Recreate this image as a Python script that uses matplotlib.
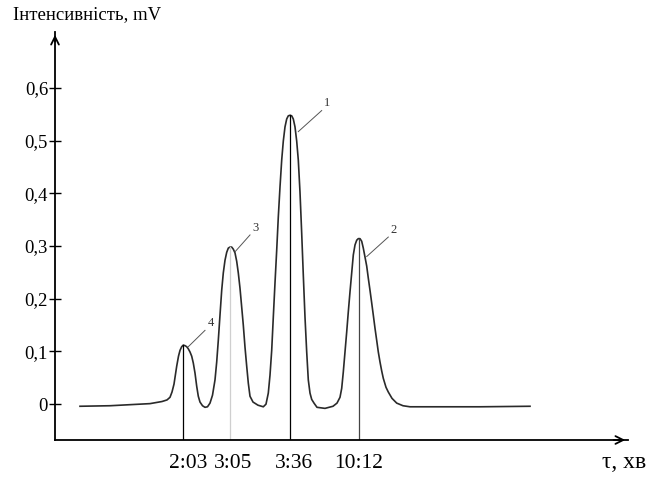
import matplotlib.pyplot as plt

plt.rcParams['font.family'] = ['Liberation Serif', 'DejaVu Serif']

# крива хроматограми (позиція по осі часу, інтенсивність mV)
pos = [80, 110, 150, 162, 167, 170, 172, 174, 176.7, 178.5, 180, 181.7, 183.3, 185, 186.7,
       188.3, 190, 191.7, 193.3, 195, 196.7, 198.3, 200, 202.5, 205, 207.5, 210, 212.5, 215,
       216.7, 218.3, 220, 221.7, 223.3, 225, 226.7, 228.3, 230, 231.7, 233.3, 235, 236.7,
       238.3, 240, 241.7, 243.3, 245, 246.7, 248.3, 250, 253, 258, 263.3, 266, 268.3, 270,
       271.7, 273.3, 275, 276.7, 278.3, 280, 281.7, 283.3, 285, 286.7, 288.3, 290, 291.7,
       293.3, 295, 296.7, 298.3, 300, 301.7, 303.3, 305, 306.7, 308.3, 310, 311.7, 314, 317,
       325, 333, 337, 340, 341.7, 343.3, 345, 346.7, 348.3, 350, 351.7, 353.3, 355, 356.7,
       358.3, 360, 361.7, 363.3, 365, 366.7, 368.3, 370, 371.7, 373.3, 375, 376.7, 378.3,
       380, 381.7, 383.3, 386, 388.3, 392, 396.7, 403, 410, 430, 480, 530]
intens = [-0.004, -0.003, 0.001, 0.005, 0.008, 0.013, 0.023, 0.038, 0.072, 0.091, 0.102,
          0.109, 0.112, 0.111, 0.109, 0.105, 0.099, 0.091, 0.078, 0.059, 0.034, 0.015, 0.004,
          -0.003, -0.006, -0.005, 0.002, 0.017, 0.046, 0.080, 0.121, 0.169, 0.216, 0.249,
          0.273, 0.288, 0.296, 0.298, 0.298, 0.294, 0.287, 0.271, 0.249, 0.220, 0.184, 0.150,
          0.108, 0.072, 0.040, 0.015, 0.004, -0.002, -0.005, 0.000, 0.021, 0.055, 0.102, 0.165,
          0.230, 0.292, 0.355, 0.412, 0.463, 0.499, 0.526, 0.541, 0.547, 0.548, 0.547, 0.541,
          0.526, 0.499, 0.463, 0.402, 0.324, 0.245, 0.165, 0.099, 0.046, 0.021, 0.009, 0.002,
          -0.006, -0.008, -0.004, 0.002, 0.013, 0.030, 0.061, 0.099, 0.137, 0.175, 0.213,
          0.249, 0.283, 0.302, 0.311, 0.314, 0.314, 0.309, 0.296, 0.279, 0.262, 0.239, 0.216,
          0.192, 0.169, 0.144, 0.121, 0.099, 0.080, 0.063, 0.049, 0.032, 0.023, 0.011, 0.002,
          -0.003, -0.005, -0.005, -0.005, -0.004]

# піки
pik_pos = [183, 230, 290, 359]
pik_vys = [0.112, 0.298, 0.548, 0.314]
pik_kol = ['black', '#cfcfcf', 'black', '#444444']
# підписи часу під віссю
chas_pos = [188.5, 233.5, 293.5, 358.5]
pik_chas = ['2:03', '3:05', '3:36', '10:12']

# номери піків і виносні лінії
nomery = ['4', '3', '1', '2']
vynos_x0 = [188.3, 235, 298.3, 366.7]
vynos_y0 = [0.109, 0.289, 0.517, 0.280]
vynos_x1 = [205, 250, 321.7, 388.3]
vynos_y1 = [0.140, 0.321, 0.557, 0.317]

yticks = [0, 0.1, 0.2, 0.3, 0.4, 0.5, 0.6]
ylabels = ['0', '0,1', '0,2', '0,3', '0,4', '0,5', '0,6']

fig = plt.figure(figsize=(6.5, 4.79), dpi=100)
ax = fig.add_axes([55 / 650, 1 - 440 / 479, (628 - 55) / 650, (440 - 32) / 479])
ax.set_xlim(55, 628)
ax.set_ylim(-0.068, 0.706)

ax.plot(pos, intens, color='#2a2a2a', lw=1.2, solid_joinstyle='round')

for x, h, c in zip(pik_pos, pik_vys, pik_kol):
    ax.plot([x, x], [-0.068, h], color=c, lw=0.9)

for n, x0, y0, x1, y1 in zip(nomery, vynos_x0, vynos_y0, vynos_x1, vynos_y1):
    ax.plot([x0, x1], [y0, y1], color='#555555', lw=0.7)
    ax.text(x1 + 2.5, y1 + 0.002, n, fontsize=9, ha='left', va='bottom', color='#333333')

for s in ['top', 'right']:
    ax.spines[s].set_visible(False)
for s in ['left', 'bottom']:
    ax.spines[s].set_linewidth(1.3)

ax.annotate('', xy=(0, 1.0), xytext=(0, 0.97), xycoords='axes fraction',
            arrowprops=dict(arrowstyle='->', lw=1.3, color='black', mutation_scale=14))
ax.annotate('', xy=(1.0, 0), xytext=(0.97, 0), xycoords='axes fraction',
            arrowprops=dict(arrowstyle='->', lw=1.3, color='black', mutation_scale=14))

ax.set_yticks(yticks)
ax.set_yticklabels(ylabels)
ax.tick_params(axis='y', direction='inout', length=8, width=1, pad=1, labelsize=13.5)
ax.set_xticks(chas_pos)
ax.set_xticklabels(pik_chas)
ax.tick_params(axis='x', length=0, pad=10, labelsize=15.5)

fig.text(13 / 650, 1 - 15 / 479, 'Інтенсивність, mV', fontsize=13.5, ha='left', va='center')
fig.text(602 / 650, 1 - 462 / 479, 'τ, хв', fontsize=17, ha='left', va='center')

fig.savefig('out.png', dpi=100)
